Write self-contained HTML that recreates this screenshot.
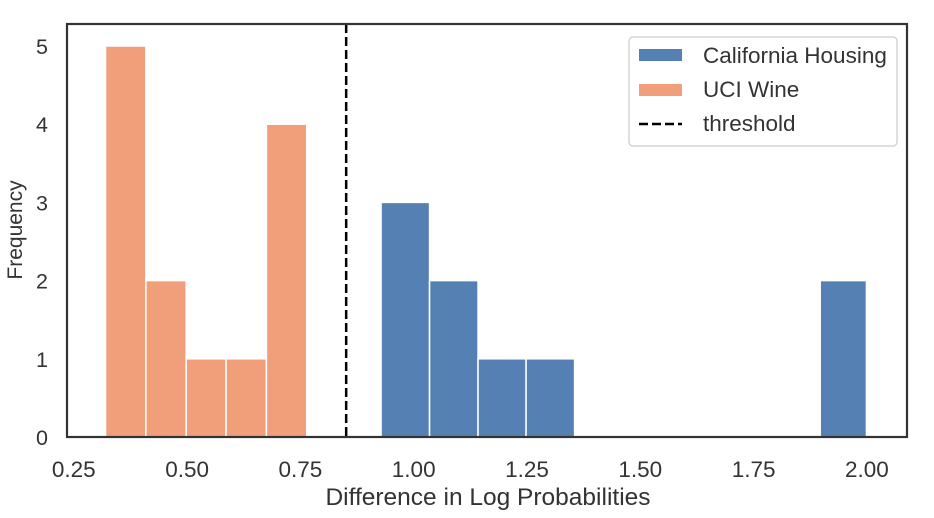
<!DOCTYPE html>
<html><head><meta charset="utf-8"><style>
body{margin:0;background:#fff;}
svg{display:block;font-family:"Liberation Sans",Arial,sans-serif;}
</style></head><body>
<svg id="chart" width="934" height="518">
<rect x="0" y="0" width="934" height="518" fill="#fff"/>
<g id="bars"></g>
<line id="thr" stroke="#000" stroke-width="2.5" stroke-dasharray="9,4"/>
<rect x="67" y="24" width="840" height="413" fill="none" stroke="#333" stroke-width="2.2"/>
<g id="xt"></g>
<g id="yt"></g>
<text x="488" y="505" text-anchor="middle" font-size="24.5" fill="#333">Difference in Log Probabilities</text>
<text transform="translate(22,230) rotate(-90)" text-anchor="middle" font-size="21" fill="#333">Frequency</text>
<g>
<rect x="629" y="37" width="268" height="109" rx="4" fill="#fff" stroke="#ccc" stroke-width="1.2"/>
<g>
<rect x="639" y="49" width="43" height="12" fill="#5580b4"/>
<text x="703" y="63" font-size="22.5" fill="#333">California Housing</text></g>
<g>
<rect x="639" y="84" width="43" height="12" fill="#f19f7a"/>
<text x="703" y="97" font-size="22.5" fill="#333">UCI Wine</text></g>
<g>
<line x1="639" y1="124" x2="682" y2="124" stroke="#000" stroke-width="2.5" stroke-dasharray="9,4"/>
<text x="703" y="131" font-size="22.5" fill="#333">threshold</text></g>
</g>
</svg>
<script>
const wineEdges=[0.320,0.409,0.498,0.586,0.675,0.764];
const wineCounts=[5,2,1,1,4];
const caliEdges=[0.928,1.035,1.142,1.248,1.355,1.462,1.569,1.676,1.782,1.897,1.999];
const caliCounts=[3,2,1,1,0,0,0,0,0,2];
const threshold=0.851;
const xTicks=[0.25,0.5,0.75,1.0,1.25,1.5,1.75,2.0];
const xTickLabels=["0.25","0.50","0.75","1.00","1.25","1.50","1.75","2.00"];
const yTicks=[0,1,2,3,4,5];
const yTickLabels=["0","1","2","3","4","5"];
const NS="http://www.w3.org/2000/svg";
function x(v){return 73.8+(v-0.25)*453.2;}
function y(v){return 437-v*78.2;}
const bars=document.getElementById('bars');
function drawHist(edges,counts,color,name){
  counts.forEach((c,i)=>{
    if(c<=0)return;
    const r=document.createElementNS(NS,'rect');
    
    
    r.setAttribute('x',x(edges[i]));
    r.setAttribute('width',x(edges[i+1])-x(edges[i]));
    r.setAttribute('y',y(c));
    r.setAttribute('height',y(0)-y(c));
    r.setAttribute('fill',color);
    r.setAttribute('stroke','#fff');
    r.setAttribute('stroke-width','1.5');
    bars.appendChild(r);
  });
}
drawHist(caliEdges,caliCounts,'#5580b4','california');
drawHist(wineEdges,wineCounts,'#f19f7a','wine');
const t=document.getElementById('thr');
t.setAttribute('x1',x(threshold));t.setAttribute('x2',x(threshold));
t.setAttribute('y1',24);t.setAttribute('y2',437);
const xt=document.getElementById('xt');
xTicks.forEach((v,i)=>{
  const e=document.createElementNS(NS,'text');
  
  
  e.setAttribute('x',x(v));e.setAttribute('y',477);
  e.setAttribute('text-anchor','middle');e.setAttribute('font-size','22.5');e.setAttribute('fill','#333');
  e.textContent=xTickLabels[i];xt.appendChild(e);
});
const yt=document.getElementById('yt');
yTicks.forEach((v,i)=>{
  const e=document.createElementNS(NS,'text');
  
  
  e.setAttribute('x',48);e.setAttribute('y',y(v)+8);
  e.setAttribute('text-anchor','end');e.setAttribute('font-size','21.5');e.setAttribute('fill','#333');
  e.textContent=yTickLabels[i];yt.appendChild(e);
});
</script>
</body></html>
